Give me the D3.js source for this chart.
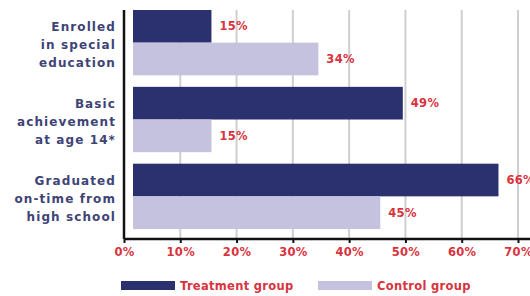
<!DOCTYPE html>
<html>
<head>
<meta charset="utf-8">
<script src="https://cdn.jsdelivr.net/npm/d3@7"></script>
<style>
  body { margin: 0; background: #fff; }
  svg text { font-family: "DejaVu Sans", sans-serif; font-weight: bold; }
</style>
</head>
<body>
<div id="chart"></div>
<script>
const categories = [
  ["Enrolled", "in special", "education"],
  ["Basic", "achievement", "at age 14*"],
  ["Graduated", "on-time from", "high school"]
]
const treatment = [15, 49, 66]
const control = [34, 15, 45]
const seriesNames = ["Treatment group", "Control group"]
const xTicks = [0, 10, 20, 30, 40, 50, 60, 70]

const width = 530
const height = 296
const margin = {top: 10, right: 0, bottom: 57, left: 124}
const navy = "#2b306f"
const lilac = "#c4c2df"
const red = "#d8333e"
const labelColor = "#3e4476"
const barInset = 9

const svg = d3.select("#chart")
  .append("svg")
    .attr("width", width)
    .attr("height", height)

const xScale = d3.scaleLinear()
  .domain([0, 70])
  .range([margin.left, 518])

const yScale = d3.scaleBand()
  .domain(d3.range(categories.length))
  .range([margin.top, 229])
  .paddingInner(0.15)
  .paddingOuter(0)

const sub = d3.scaleBand()
  .domain([0, 1])
  .range([0, yScale.bandwidth()])

const axisY = height - margin.bottom + 0

// grid lines
svg.append("g")
  .selectAll("line")
  .data(xTicks.slice(1))
  .join("line")
    .attr("x1", d => xScale(d))
    .attr("x2", d => xScale(d))
    .attr("y1", margin.top)
    .attr("y2", axisY)
    .attr("stroke", "#cfcfcf")
    .attr("stroke-width", 2)

const rows = categories.map((c, i) => ({i, values: [treatment[i], control[i]]}))

const group = svg.append("g")
  .selectAll("g")
  .data(rows)
  .join("g")
    .attr("transform", d => "translate(0," + yScale(d.i) + ")")

group.selectAll("rect")
  .data(d => d.values)
  .join("rect")
    .attr("x", xScale(0) + barInset)
    .attr("y", (d, j) => sub(j))
    .attr("width", d => xScale(d) + 3 - xScale(0) - barInset)
    .attr("height", sub.bandwidth())
    .attr("fill", (d, j) => j === 0 ? navy : lilac)

group.selectAll("text.value")
  .data(d => d.values)
  .join("text")
    .attr("class", "value")
    .attr("x", d => xScale(d) + 11)
    .attr("y", (d, j) => sub(j) + sub.bandwidth() / 2)
    .attr("dy", "0.36em")
    .attr("fill", red)
    .attr("font-size", 11.5)
    .attr("letter-spacing", 0.3)
    .text(d => d + "%")

// category labels
group.append("text")
    .attr("x", margin.left - 8)
    .attr("y", yScale.bandwidth() / 2)
    .attr("text-anchor", "end")
    .attr("fill", labelColor)
    .attr("font-size", 12)
    .attr("letter-spacing", 1.1)
  .selectAll("tspan")
  .data(d => categories[d.i])
  .join("tspan")
    .attr("x", margin.left - 8)
    .attr("dy", (d, k) => k === 0 ? "-0.95em" : "1.5em")
    .text(d => d)

// x axis
const xAxis = svg.append("g")
  .attr("transform", "translate(0," + axisY + ")")
  .call(d3.axisBottom(xScale).tickValues(xTicks).tickFormat(d => d + "%").tickSize(4).tickPadding(5))

xAxis.select(".domain").remove()
xAxis.selectAll(".tick line").attr("stroke", "#111").attr("stroke-width", 2)
xAxis.selectAll(".tick text")
  .attr("fill", red)
  .attr("font-size", 11.5)
  .attr("letter-spacing", 0.3)
  .style("font-family", "'DejaVu Sans', sans-serif")
  .style("font-weight", "bold")

svg.append("line")
  .attr("x1", xScale(0))
  .attr("x2", width)
  .attr("y1", axisY)
  .attr("y2", axisY)
  .attr("stroke", "#111")
  .attr("stroke-width", 2.5)

svg.append("line")
  .attr("x1", xScale(0))
  .attr("x2", xScale(0))
  .attr("y1", margin.top)
  .attr("y2", axisY)
  .attr("stroke", "#111")
  .attr("stroke-width", 2.5)

// legend
const legendX = [121, 318]
const legend = svg.append("g")
  .selectAll("g")
  .data(seriesNames)
  .join("g")
    .attr("transform", (d, i) => "translate(" + legendX[i] + ",281)")

legend.append("rect")
  .attr("width", 54)
  .attr("height", 9)
  .attr("fill", (d, i) => i === 0 ? navy : lilac)

legend.append("text")
  .attr("x", 59)
  .attr("y", 4.5)
  .attr("dy", "0.36em")
  .attr("fill", red)
  .attr("font-size", 11.5)
  .attr("letter-spacing", 0.3)
  .text(d => d)
</script>
</body>
</html>
